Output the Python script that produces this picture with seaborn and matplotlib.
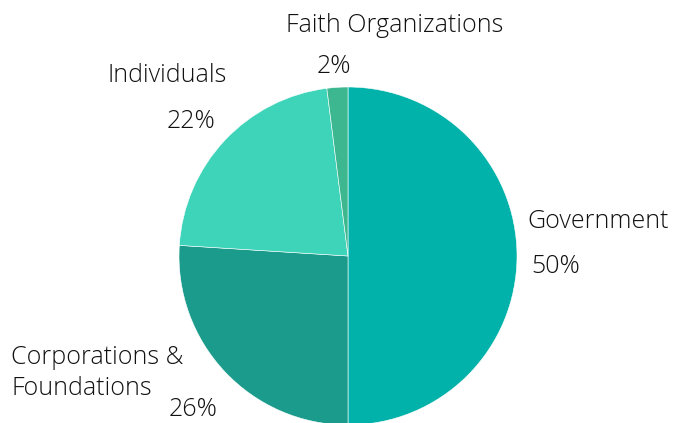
import matplotlib
matplotlib.use("Agg")
import matplotlib.pyplot as plt
import seaborn as sns

categories = ["Government", "Corporations &\nFoundations", "Individuals", "Faith Organizations"]
values = [50, 26, 22, 2]
pct_labels = ["50%", "26%", "22%", "2%"]
colors = ["#00B2AA", "#1B9B8B", "#3DD4BA", "#3DB78F"]

sns.set_style("white")
plt.rcParams['font.family'] = ['Open Sans', 'DejaVu Sans']

W, H = 676, 423
fig = plt.figure(figsize=(W / 100, H / 100), dpi=100)
ax = fig.add_axes([0, 0, 1, 1])

ax.pie(values, colors=colors, startangle=90, counterclock=False,
       center=(348, H - 256), radius=169,
       wedgeprops=dict(edgecolor="white", linewidth=0.4), frame=True)
ax.set_xlim(0, W)
ax.set_ylim(0, H)
ax.axis("off")

fs = 18
def t(x, y, s, ha="left", **kw):
    ax.text(x, H - y, s, fontsize=fs, ha=ha, va="center", color="#111111",
            fontweight="light", **kw)

# category labels (pixel positions in image)
t(527, 221, categories[0])
t(11, 373, categories[1], linespacing=1.3)
t(107, 75, categories[2])
t(286, 25, categories[3])
# percentages
t(531, 266, pct_labels[0])
t(169, 409, pct_labels[1])
t(167, 121, pct_labels[2])
t(317, 66, pct_labels[3])

fig.savefig("out.png", dpi=100)
